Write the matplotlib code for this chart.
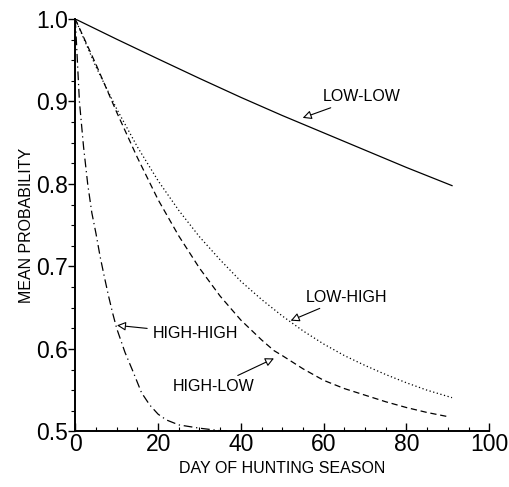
import matplotlib
matplotlib.use("Agg")
import matplotlib.pyplot as plt
from matplotlib.ticker import MultipleLocator, FormatStrFormatter

plt.rcParams["font.family"] = ["Liberation Sans", "DejaVu Sans"]

# Mean probability by day of hunting season
low_low_days = [0, 10, 20, 30, 40, 50, 60, 70, 80, 91]
low_low = [1.0, 0.9755, 0.9516, 0.928, 0.905, 0.883, 0.862, 0.841, 0.820, 0.798]

low_high_days = [0, 5, 10, 15, 20, 25, 30, 35, 40, 45, 50, 55, 60, 65, 70, 75, 80, 85, 91]
low_high = [1.0, 0.942, 0.891, 0.845, 0.804, 0.768, 0.736, 0.708, 0.682, 0.660,
            0.640, 0.622, 0.606, 0.592, 0.580, 0.569, 0.559, 0.550, 0.541]

high_low_days = [0, 5, 10, 15, 20, 25, 30, 35, 40, 45, 48, 50, 55, 60, 65, 70, 75, 80, 85, 90]
high_low = [1.0, 0.945, 0.887, 0.832, 0.781, 0.737, 0.698, 0.664, 0.635, 0.611,
            0.598, 0.592, 0.576, 0.562, 0.552, 0.544, 0.536, 0.529, 0.523, 0.518]

high_high_days = [0, 1, 2, 3, 4, 5, 6, 7, 8, 9, 10, 12, 14, 16, 18, 20, 22, 25, 30, 35,
                  40, 50, 60, 70, 80, 90]
high_high = [1.0, 0.90, 0.845, 0.80, 0.765, 0.74, 0.712, 0.688, 0.665, 0.644, 0.625,
             0.596, 0.572, 0.547, 0.532, 0.521, 0.514, 0.508, 0.504, 0.501,
             0.5, 0.5, 0.5, 0.5, 0.5, 0.5]

fig = plt.figure(figsize=(5.1, 4.87), dpi=100)
ax = fig.add_axes([0.1476, 0.114, 0.8118, 0.847])

ax.plot(low_low_days, low_low, color="black", lw=0.9, ls="-")
ax.plot(low_high_days, low_high, color="black", lw=0.9, ls=(0, (1, 2)))
ax.plot(high_low_days, high_low, color="black", lw=0.9, ls=(0, (5, 3)))
ax.plot(high_high_days, high_high, color="black", lw=0.9, ls=(0, (7, 3, 1, 3)))

ax.set_xlim(0, 100)
ax.set_ylim(0.5, 1.0)
ax.spines["top"].set_visible(False)
ax.spines["right"].set_visible(False)
ax.spines["left"].set_linewidth(1.4)
ax.spines["bottom"].set_linewidth(1.4)

ax.xaxis.set_major_locator(MultipleLocator(20))
ax.xaxis.set_minor_locator(MultipleLocator(5))
ax.yaxis.set_major_locator(MultipleLocator(0.1))
ax.yaxis.set_minor_locator(MultipleLocator(0.025))
ax.tick_params(axis="x", which="major", direction="in", length=6, width=1, pad=1, labelsize=16.5)
ax.tick_params(axis="x", which="minor", direction="in", length=3, width=0.8)
ax.tick_params(axis="y", which="major", direction="out", length=5, width=1, pad=0, labelsize=16.5)
ax.tick_params(axis="y", which="minor", direction="out", length=3, width=0.8)
ax.xaxis.set_major_formatter(FormatStrFormatter("%d"))
ax.yaxis.set_major_formatter(FormatStrFormatter("%.1f"))

ax.set_xlabel("DAY OF HUNTING SEASON", fontsize=11.5, labelpad=4)
ax.set_ylabel("MEAN PROBABILITY", fontsize=11.5, labelpad=2)

arrow = dict(arrowstyle="-|>", fc="white", ec="black", lw=0.8, mutation_scale=13)
ax.annotate("LOW-LOW", xy=(54.3, 0.879), xytext=(59.8, 0.906), fontsize=11.5,
            va="center", ha="left", arrowprops=arrow)
ax.annotate("LOW-HIGH", xy=(51.4, 0.633), xytext=(55.7, 0.663), fontsize=11.5,
            va="center", ha="left", arrowprops=arrow)
ax.annotate("HIGH-HIGH", xy=(9.4, 0.629), xytext=(18.7, 0.619), fontsize=11.5,
            va="center", ha="left", arrowprops=arrow)
ax.annotate("HIGH-LOW", xy=(48.6, 0.590), xytext=(23.5, 0.554), fontsize=11.5,
            va="center", ha="left", arrowprops=arrow)

fig.savefig("out.png", dpi=100)
